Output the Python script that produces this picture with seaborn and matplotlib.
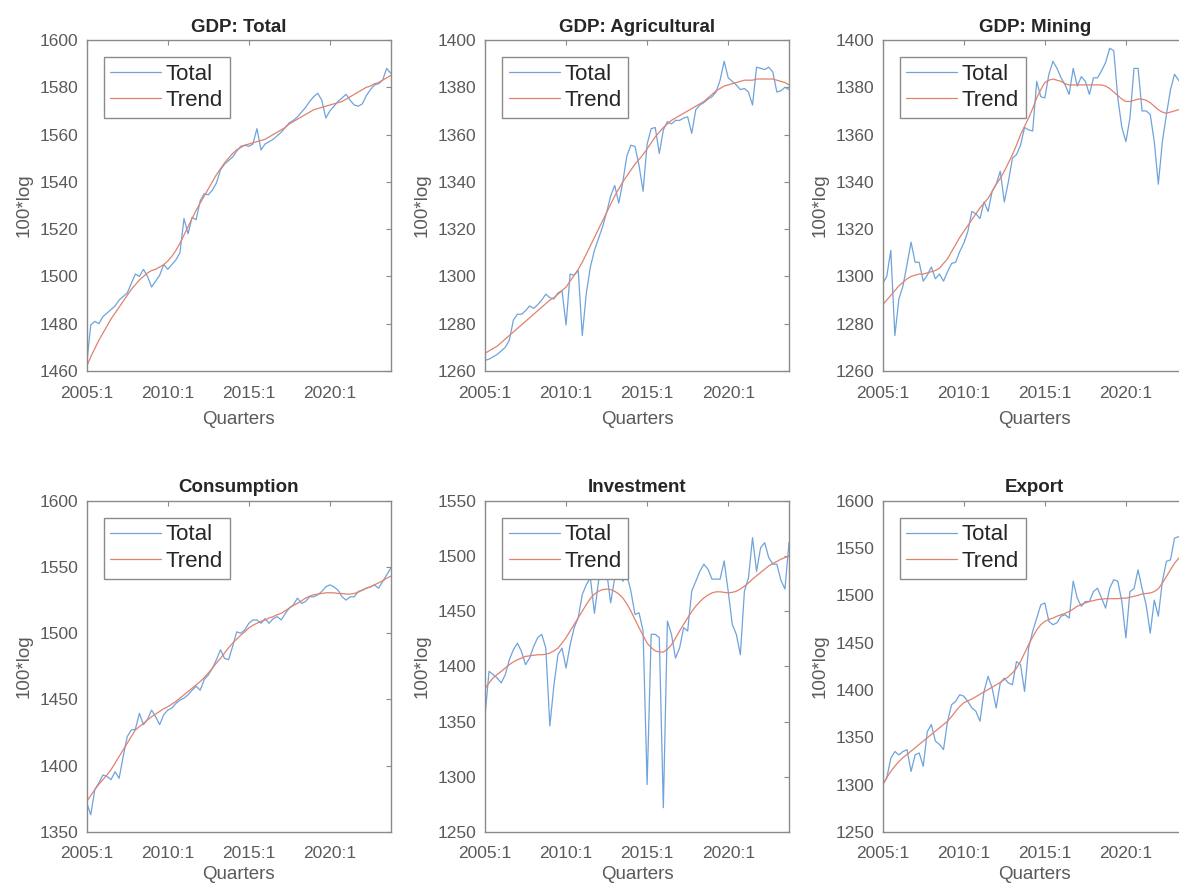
import numpy as np
import pandas as pd
import matplotlib
matplotlib.use("Agg")
import matplotlib.pyplot as plt
import seaborn as sns

# ---------------- data (100*log, quarterly 2005:1 .. 2023:4) ----------------
tick_labels = ["2005:1", "2010:1", "2015:1", "2020:1"]
titles = ["GDP: Total", "GDP: Agricultural", "GDP: Mining",
          "Consumption", "Investment", "Export"]

gdp_total = [1463, 1479.5, 1481, 1480, 1483, 1484.5, 1486, 1487.5, 1490, 1491.5,
             1493, 1497, 1501, 1500, 1503, 1500, 1495.5, 1498, 1500.5, 1505,
             1503, 1505, 1507, 1510, 1524.5, 1518, 1525, 1524, 1532, 1535,
             1534.5, 1536.5, 1539.5, 1545, 1547.5, 1549, 1550.5, 1553, 1555, 1555.5,
             1555, 1556, 1562.5, 1553.5, 1556, 1557, 1558, 1559.5, 1561, 1563,
             1565, 1566, 1567.5, 1569.5, 1571.5, 1574, 1576, 1577.5, 1574.5, 1567,
             1570, 1572, 1574, 1575.5, 1577, 1574.5, 1572.5, 1572, 1573, 1576.5,
             1579, 1581, 1581.5, 1583, 1588, 1586]
gdp_total_trend = [1462, 1466, 1469.5, 1473, 1476, 1479, 1482, 1484.5, 1487, 1489.5,
                   1492, 1494.5, 1496.5, 1498.5, 1500, 1501.5, 1502.5, 1503, 1504, 1505,
                   1506.5, 1508.5, 1511, 1514, 1517.5, 1521, 1524.5, 1528, 1531, 1534,
                   1537, 1540, 1543, 1545.5, 1548, 1550, 1552, 1553.5, 1554.5, 1555.5,
                   1556, 1556.5, 1557, 1557.5, 1558, 1559, 1560, 1561, 1562, 1563,
                   1564.5, 1565.5, 1566.5, 1567.5, 1568.5, 1569.5, 1570.5, 1571, 1571.5, 1572,
                   1572.5, 1573, 1573.5, 1574, 1575, 1576, 1577, 1578, 1579, 1580,
                   1580.5, 1581.5, 1582, 1583, 1584, 1585]

gdp_agri = [1264.5, 1265, 1266, 1267, 1268.5, 1270, 1273, 1281.5, 1284, 1284,
            1285.5, 1287.5, 1286.5, 1288, 1290, 1292.5, 1291, 1290.5, 1293, 1294,
            1279.5, 1301, 1300.5, 1302.5, 1275, 1293, 1304, 1311, 1316, 1321,
            1327, 1334, 1338.5, 1331, 1340, 1351, 1355.5, 1355, 1347, 1336,
            1356, 1362.5, 1363, 1352, 1362, 1365.5, 1364.5, 1366, 1366, 1367,
            1367.5, 1360.5, 1370.5, 1372.5, 1373.5, 1375, 1376, 1378, 1383, 1391,
            1384, 1382.5, 1381, 1379, 1379.5, 1378, 1372.5, 1388.5, 1388, 1387.5,
            1388.5, 1386.5, 1378, 1378.5, 1380, 1379]
gdp_agri_trend = [1267.5, 1268.5, 1269.5, 1270.5, 1272, 1273.5, 1275, 1276.5, 1278, 1279.5,
                  1281, 1282.5, 1284, 1285.5, 1287, 1288.5, 1290, 1291, 1292.5, 1294,
                  1295.5, 1298, 1300.5, 1303, 1306, 1309.5, 1313, 1316.5, 1320, 1323.5,
                  1327, 1330.5, 1334, 1337, 1340, 1342.5, 1345, 1347.5, 1349.5, 1351.5,
                  1354, 1356.5, 1359, 1361, 1363, 1364.5, 1366, 1367, 1368, 1369,
                  1370, 1371, 1372, 1373, 1374, 1375.5, 1377, 1378.5, 1379.5, 1380.5,
                  1381, 1381.5, 1382, 1382.5, 1383, 1383, 1383, 1383.5, 1383.5, 1383.5,
                  1383.5, 1383.5, 1383, 1382.5, 1382, 1381]

gdp_mining = [1297, 1300, 1311, 1275, 1290.5, 1296, 1305, 1314.5, 1306, 1306,
              1298, 1300.5, 1304, 1299, 1301, 1298, 1302, 1305.5, 1306, 1310.5,
              1314, 1319, 1327.5, 1326.5, 1324.5, 1331.5, 1327.5, 1336, 1339, 1344.5,
              1331.5, 1340, 1350, 1351.5, 1355.5, 1363, 1362, 1361.5, 1382.5, 1376,
              1375.5, 1385.5, 1391, 1388, 1384, 1381, 1377, 1388, 1380.5, 1384.5,
              1382.5, 1377, 1384, 1384, 1387, 1390.5, 1396.5, 1395.5, 1375.5, 1363,
              1357, 1367, 1388, 1388, 1370, 1370, 1368.5, 1357, 1339, 1357,
              1368.5, 1379, 1385.5, 1383, 1381, 1384]
gdp_mining_trend = [1288, 1290, 1292, 1294, 1296, 1297.5, 1299, 1300, 1300.5, 1301,
                    1301, 1301.5, 1302, 1302.5, 1303.5, 1305.5, 1307.5, 1310.5, 1313.5, 1316.5,
                    1319, 1321.5, 1324, 1326.5, 1329, 1331, 1333, 1336, 1339, 1341.5,
                    1344.5, 1348, 1351.5, 1355.5, 1360, 1363.5, 1367, 1371, 1375.5, 1379,
                    1382, 1383, 1383.5, 1383, 1382.5, 1381.5, 1381, 1381, 1381, 1381,
                    1381, 1381, 1381, 1381, 1381, 1380.5, 1379.5, 1378, 1376.5, 1375,
                    1374, 1374, 1374.5, 1375, 1375, 1374.5, 1373.5, 1372, 1370.5, 1369.5,
                    1369, 1369.5, 1370, 1370.5, 1371, 1371.5]

consumption = [1372, 1363, 1382, 1387, 1393, 1392, 1389.5, 1395.5, 1390.5, 1407,
               1422, 1427, 1427.5, 1439.5, 1431, 1435, 1442, 1437, 1431, 1438.5,
               1442, 1443.5, 1447, 1449.5, 1451, 1453.5, 1457, 1460, 1457, 1465,
               1468.5, 1473.5, 1480, 1487.5, 1481, 1480, 1490, 1501, 1500, 1502.5,
               1507.5, 1510, 1510, 1507.5, 1511, 1507.5, 1511, 1512.5, 1510, 1515,
               1519, 1521.5, 1526.5, 1522.5, 1524, 1527.5, 1527.5, 1529, 1531.5, 1535,
               1536.5, 1535, 1532.5, 1527.5, 1525, 1527.5, 1527.5, 1531.5, 1532.5, 1534,
               1535, 1536.5, 1534, 1539, 1544, 1549]
consumption_trend = [1373, 1377.5, 1382, 1386, 1389.5, 1393, 1397, 1402, 1407, 1412,
                     1417, 1422, 1427, 1429.5, 1432, 1434.5, 1437, 1439, 1441, 1443,
                     1444.5, 1446.5, 1448.5, 1451, 1453.5, 1456, 1458.5, 1461, 1463.5, 1466.5,
                     1470, 1473.5, 1477.5, 1481, 1485, 1489, 1492.5, 1495.5, 1498.5, 1501,
                     1504, 1506, 1507.5, 1509, 1510, 1511.5, 1512.5, 1514, 1515, 1517,
                     1519, 1521, 1522.5, 1524.5, 1526.5, 1528, 1529, 1529.5, 1530, 1530.5,
                     1530.5, 1530.5, 1530, 1530, 1529.5, 1529.5, 1530, 1531, 1532.5, 1534,
                     1535, 1536.5, 1538, 1539.5, 1541.5, 1543]

investment = [1355, 1395.5, 1392.5, 1389.5, 1385, 1392.5, 1406, 1415, 1421, 1413.5,
              1401.5, 1407.5, 1418, 1426, 1429, 1416.5, 1346, 1383, 1410.5, 1416.5,
              1398.5, 1419.5, 1435, 1444, 1465, 1474, 1480, 1448, 1477, 1489,
              1486, 1457.5, 1480, 1489, 1477, 1483, 1468, 1447, 1448.5, 1432,
              1293, 1429, 1429, 1426, 1272, 1441, 1429, 1407.5, 1416.5, 1435,
              1432, 1468, 1477, 1486, 1492.5, 1488, 1479, 1479, 1479, 1495.5,
              1468, 1438, 1429, 1410.5, 1468, 1480, 1516.5, 1486, 1507.5, 1512,
              1498.5, 1492.5, 1492.5, 1478, 1470, 1512]
investment_trend = [1380, 1385, 1389.5, 1392.5, 1395.5, 1398.5, 1401.5, 1404, 1406, 1407.5,
                    1409, 1409.5, 1410, 1410.5, 1410.5, 1411, 1412, 1414, 1416.5, 1421,
                    1426, 1432, 1438, 1444, 1450, 1456, 1461.5, 1465.5, 1468, 1469.5,
                    1470, 1469.5, 1468, 1465.5, 1462, 1456.5, 1450, 1442.5, 1435, 1428,
                    1421, 1417, 1414, 1413, 1413, 1415.5, 1419.5, 1425.5, 1432, 1438,
                    1444, 1449.5, 1454.5, 1458.5, 1462, 1464.5, 1466.5, 1467.5, 1467.5, 1467,
                    1466.5, 1467, 1468, 1470, 1472.5, 1475.5, 1479, 1482, 1485, 1488,
                    1491, 1493, 1495, 1497, 1498.5, 1500]

export = [1300, 1307, 1328, 1335, 1331.5, 1335, 1337, 1314, 1331.5, 1333.5,
          1319.5, 1356, 1363.5, 1346, 1342.5, 1337, 1367, 1384.5, 1388, 1395,
          1393.5, 1388, 1381, 1377.5, 1367, 1398.5, 1414.5, 1402, 1381, 1407.5,
          1412.5, 1407.5, 1405.5, 1430, 1427, 1398.5, 1444.5, 1462, 1476, 1490,
          1492, 1472.5, 1469, 1471, 1478, 1479.5, 1476, 1515, 1497, 1488.5,
          1493.5, 1493.5, 1504, 1507.5, 1497, 1486.5, 1507.5, 1516.5, 1515, 1493.5,
          1455, 1504, 1507, 1527, 1507, 1490, 1460, 1495, 1478, 1515,
          1536, 1537.5, 1560.5, 1562, 1560, 1565]
export_trend = [1300, 1307.5, 1314, 1319.5, 1324.5, 1328.5, 1332, 1335.5, 1339, 1342.5,
                1346, 1349.5, 1353, 1356.5, 1360, 1363.5, 1367, 1372, 1377.5, 1382.5,
                1386.5, 1388.5, 1390.5, 1393, 1395.5, 1398, 1400.5, 1403, 1405.5, 1408,
                1411, 1414, 1418, 1423, 1430, 1439, 1448, 1456, 1463.5, 1469,
                1472.5, 1474.5, 1476, 1478, 1479.5, 1481, 1483, 1485.5, 1488.5, 1490.5,
                1492, 1493.5, 1494.5, 1495.5, 1496, 1496.5, 1496.5, 1496.5, 1496.5, 1497,
                1497, 1498, 1499, 1500, 1501.5, 1502, 1502.5, 1504, 1507, 1513,
                1520, 1527, 1534, 1539, 1544, 1548]

yticks_list = [list(range(1460, 1601, 20)), list(range(1260, 1401, 20)),
               list(range(1260, 1401, 20)), list(range(1350, 1601, 50)),
               list(range(1250, 1551, 50)), list(range(1250, 1601, 50))]

series = [(gdp_total, gdp_total_trend), (gdp_agri, gdp_agri_trend),
          (gdp_mining, gdp_mining_trend), (consumption, consumption_trend),
          (investment, investment_trend), (export, export_trend)]

# ---------------- style ----------------
sns.set_style("white")
plt.rcParams["font.family"] = ["Liberation Sans", "DejaVu Sans"]

BLUE = "#6fa3dc"
RED = "#e0826e"
GRAY_TXT = "#5a5a5a"
GRAY_AX = "#8a8a8a"

W, H = 1179, 886
fig = plt.figure(figsize=(W / 100, H / 100), dpi=100)
col_left = [86.7, 485.0, 882.7]
rows = [(40.0, 371.0), (500.7, 832.0)]
ax_w = 304.0

for i, (title, (tot, trd), yt) in enumerate(zip(titles, series, yticks_list)):
    r, c = divmod(i, 3)
    top, bot = rows[r]
    ax = fig.add_axes([col_left[c] / W, (H - bot) / H, ax_w / W, (bot - top) / H])
    n = len(tot)
    df = pd.DataFrame({"q": np.arange(n), "Total": tot, "Trend": trd})
    sns.lineplot(data=df, x="q", y="Total", ax=ax, color=BLUE, lw=0.9, label="Total")
    sns.lineplot(data=df, x="q", y="Trend", ax=ax, color=RED, lw=0.9, label="Trend")

    ax.set_xlim(0, n - 1)
    ax.set_ylim(yt[0], yt[-1])
    ax.set_xticks([0, 20, 40, 60])
    ax.set_xticklabels(tick_labels)
    ax.set_yticks(yt)
    ax.tick_params(axis="both", direction="in", top=True, right=True, length=3.5,
                   width=0.8, color=GRAY_AX, labelcolor=GRAY_TXT, labelsize=12.5)
    ax.tick_params(axis="y", pad=6)
    ax.tick_params(axis="x", pad=11 if r == 0 else 10)
    for s in ax.spines.values():
        s.set_color(GRAY_AX)
        s.set_linewidth(1.0)
    ax.set_xlabel("Quarters", fontsize=13.5, color=GRAY_TXT,
                  labelpad=7 if r == 0 else 4)
    ax.set_ylabel("100*log", fontsize=13.5, color=GRAY_TXT, labelpad=5)
    ax.set_title(title, fontsize=13.5, fontweight="bold", color="#262626", pad=6)

    h, l = ax.get_legend_handles_labels()
    leg = ax.legend(h, l, loc="upper left",
                    bbox_to_anchor=(17 / ax_w, 1 - 17 / (bot - top)),
                    borderaxespad=0, frameon=True, fancybox=False, framealpha=1,
                    edgecolor=GRAY_AX, fontsize=16, handlelength=2.3,
                    labelspacing=0.25, borderpad=0.3, handletextpad=0.2)
    leg.get_frame().set_linewidth(1.0)

fig.savefig("out.png", dpi=100)
